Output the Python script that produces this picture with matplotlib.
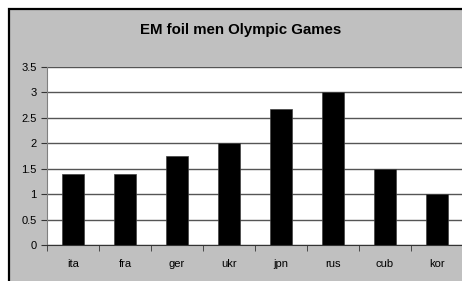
import numpy as np
import matplotlib.pyplot as plt
from matplotlib.patches import Rectangle

# Data.
countries = ["ita", "fra", "ger", "ukr", "jpn", "rus", "cub", "kor"]
em_values = [1.4, 1.4, 1.75, 2.0, 2.67, 3.0, 1.5, 1.0]
y_ticks = [0, 0.5, 1, 1.5, 2, 2.5, 3, 3.5]

plt.rcParams['font.family'] = ['Liberation Sans', 'DejaVu Sans']

W, H = 462, 281
fig = plt.figure(figsize=(W/100., H/100.), dpi=100)
fig.patch.set_facecolor('white')

# Gray chart frame, cut off at right and bottom like the reference.
frame = Rectangle((8.5/W, -0.1), 1.2, (H-8.5)/H + 0.1, transform=fig.transFigure,
                  facecolor='#c0c0c0', edgecolor='black', linewidth=1.6, zorder=-5)
fig.patches.append(frame)

ax = fig.add_axes([47/W, 36/H, 1 - 47/W + 0.002, 178/H])
ax.set_facecolor('white')

x = np.arange(len(countries))
ax.bar(x, em_values, width=0.43, color='black', edgecolor='#404040', linewidth=0.5, zorder=3)

ax.set_xlim(-0.5, len(countries) - 0.5)
ax.set_ylim(0, 3.5)
ax.set_yticks(y_ticks)
ax.set_yticklabels(["0", "0.5", "1", "1.5", "2", "2.5", "3", "3.5"], fontsize=8)
ax.yaxis.grid(True, color='#555555', linewidth=1.0, zorder=1)
ax.set_axisbelow(True)

ax.set_xticks(x)
ax.set_xticklabels(countries, fontsize=8)
ax.set_xticks(np.arange(len(countries) + 1) - 0.5, minor=True)
ax.tick_params(axis='x', which='major', length=0, pad=10)
ax.tick_params(axis='x', which='minor', length=4, direction='out', color='#333333')
ax.tick_params(axis='y', length=4, direction='out', color='#333333', pad=3.5)

for side in ['top', 'right']:
    ax.spines[side].set_visible(False)
ax.spines['left'].set_color('#808080')
ax.spines['bottom'].set_color('#333333')
ax.spines['bottom'].set_zorder(4)

fig.text(241/W, 1 - 30/H, "EM foil men Olympic Games", ha='center', va='center',
         fontsize=10.8, fontweight='bold')

fig.savefig("out.png", dpi=100)
